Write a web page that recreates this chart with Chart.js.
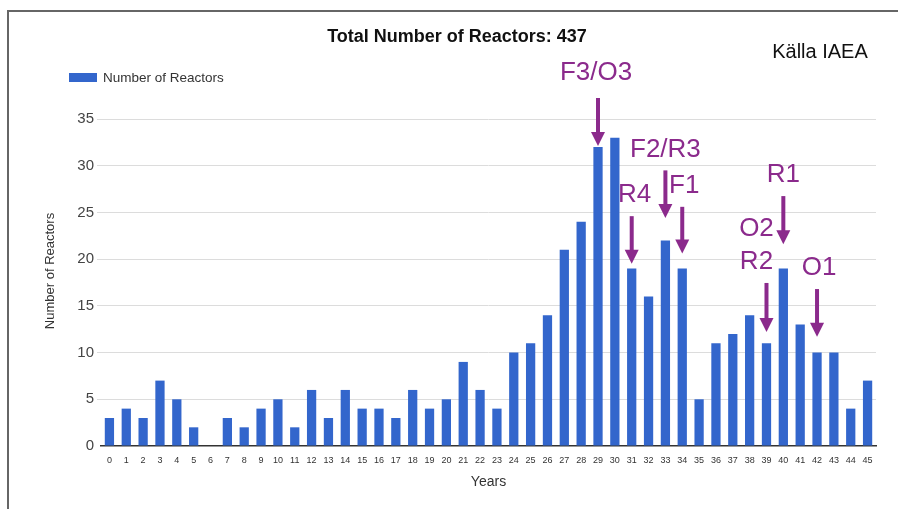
<!DOCTYPE html>
<html>
<head>
<meta charset="utf-8">
<script src="https://cdn.jsdelivr.net/npm/chart.js@4.4.1/dist/chart.umd.min.js"></script>
<style>
html,body{margin:0;padding:0;background:#fff;}
#wrap{position:relative;width:898px;height:509px;overflow:hidden;}
#frame{position:absolute;left:7px;top:10px;width:900px;height:520px;border-top:2px solid #666;border-left:2px solid #666;}
#chartReactors{position:absolute;left:0;top:0;}
</style>
</head>
<body>
<div id="wrap">
<div id="frame"></div>
<canvas id="chartReactors" width="898" height="509"></canvas>
</div>
<script>
// reactor age in years -> number of reactors (IAEA)
const years = [];
for (let i = 0; i <= 45; i++) years.push(String(i));
const reactors = [3,4,3,7,5,2,0,3,2,4, 5,2,6,3,6,4,4,3,6,4, 5,9,6,4,10,11,14,21,24,32, 33,19,16,22,19,5,11,12,14,11, 19,13,10,10,4,7];
const yTicks = [0,5,10,15,20,25,30,35];

// arrows drawn on top: label, bar index, tip value, top value
const arrowLabels = ['F3/O3','R4','F2/R3','F1','O2\nR2','R1','O1'];
const arrowIndex = [29,31,33,34,39,40,42];
const arrowTip = [32.1,19.5,24.4,20.6,12.2,21.6,11.7];
const arrowTop = [37.25,24.6,29.5,25.6,17.45,26.75,16.8];
const arrowShift = [-2,3,0,2,-10,0,2];

const totalReactors = reactors.reduce((a,b)=>a+b,0);
const purple = '#8b2a8c';
const blue = '#3366cc';
const FONT = '"Liberation Sans", Arial, sans-serif';

const extrasPlugin = {
  id:'extras',
  afterDraw(chart){
    const ctx = chart.ctx, xs = chart.scales.x, ys = chart.scales.y;
    ctx.save();
    // title
    ctx.fillStyle = '#111';
    ctx.font = 'bold 18px ' + FONT;
    ctx.textAlign = 'center'; ctx.textBaseline = 'middle';
    ctx.fillText('Total Number of Reactors: ' + totalReactors, 457, 37);
    // source
    ctx.font = '20px ' + FONT;
    ctx.fillText('Källa IAEA', 820, 52);
    // legend
    ctx.fillStyle = blue;
    ctx.fillRect(69, 73, 28, 9);
    ctx.fillStyle = '#333';
    ctx.font = '13.5px ' + FONT;
    ctx.textAlign = 'left';
    ctx.fillText(chart.data.datasets[0].label, 103, 78);
    // y axis title
    ctx.save();
    ctx.translate(50, 271);
    ctx.rotate(-Math.PI/2);
    ctx.textAlign = 'center';
    ctx.font = '13px ' + FONT;
    ctx.fillText('Number of Reactors', 0, 0);
    ctx.restore();
    // arrows
    ctx.strokeStyle = purple; ctx.fillStyle = purple;
    for (let i = 0; i < arrowLabels.length; i++) {
      const x = xs.getPixelForValue(arrowIndex[i]);
      const yTip = ys.getPixelForValue(arrowTip[i]);
      const yTop = ys.getPixelForValue(arrowTop[i]);
      ctx.lineWidth = 4;
      ctx.beginPath(); ctx.moveTo(x, yTop); ctx.lineTo(x, yTip - 12); ctx.stroke();
      ctx.beginPath(); ctx.moveTo(x - 7, yTip - 14); ctx.lineTo(x + 7, yTip - 14); ctx.lineTo(x, yTip); ctx.closePath(); ctx.fill();
      ctx.font = '26px ' + FONT;
      ctx.textAlign = 'center'; ctx.textBaseline = 'middle';
      const lines = arrowLabels[i].split('\n');
      let ly = yTop - 21 - (i === 0 ? 4 : 0);
      for (let j = lines.length - 1; j >= 0; j--) {
        ctx.fillText(lines[j], x + arrowShift[i], ly);
        ly -= 33;
      }
    }
    ctx.restore();
  }
};

const chartReactors = new Chart(document.getElementById('chartReactors'), {
  type:'bar',
  data:{
    labels:years,
    datasets:[{
      label:'Number of Reactors',
      data:reactors,
      backgroundColor:blue,
      barPercentage:0.55,
      categoryPercentage:1
    }]
  },
  options:{
    responsive:false,
    animation:false,
    layout:{padding:{top:119,left:40,right:22,bottom:0}},
    plugins:{legend:{display:false},tooltip:{enabled:false},title:{display:false}},
    scales:{
      x:{
        afterFit:(s)=>{s.height = 63;},
        grid:{display:false},
        border:{display:true,color:'#333',width:1.5},
        ticks:{autoSkip:false,maxRotation:0,font:{size:9,family:FONT},color:'#333',padding:1},
        title:{display:true,text:'Years',font:{size:14,family:FONT},color:'#333',padding:{top:0,bottom:18}}
      },
      y:{
        min:0,max:35,
        afterFit:(s)=>{s.width = 61;},
        afterBuildTicks:(s)=>{s.ticks = yTicks.map(v=>({value:v}));},
        border:{display:false},
        grid:{color:(c)=>c.tick && c.tick.value === 0 ? 'rgba(0,0,0,0)' : '#dcdcdc',tickLength:4,lineWidth:1},
        ticks:{font:{size:15,family:FONT},color:'#444',padding:3}
      }
    }
  },
  plugins:[extrasPlugin]
});
</script>
</body>
</html>
